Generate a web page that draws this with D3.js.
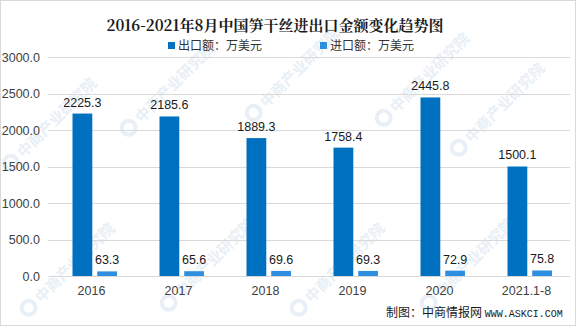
<!DOCTYPE html>
<html>
<head>
<meta charset="utf-8">
<script src="https://cdn.jsdelivr.net/npm/d3@7"></script>
<style>
  html, body { margin: 0; padding: 0; background: #fff; }
  svg { display: block; }
</style>
</head>
<body>
<svg id="chart" width="576" height="326"></svg>
<script>
// 2016-2021.1-8 bamboo-shoot import/export values (10k USD)
const categories = ["2016", "2017", "2018", "2019", "2020", "2021.1-8"];
const exportValues = [2225.3, 2185.6, 1889.3, 1758.4, 2445.8, 1500.1];
const importValues = [63.3, 65.6, 69.6, 69.3, 72.9, 75.8];
const yTicks = [0, 500, 1000, 1500, 2000, 2500, 3000];
const seriesNames = ["出口额：万美元", "进口额：万美元"];

const W = 576, H = 326;
const margin = { left: 48, right: 6, top: 57, bottom: 50 };
const colors = ["#0070C0", "#2E8FE0"];
const cjk = "'Noto Sans CJK SC', 'Noto Sans', sans-serif";

const svg = d3.select("#chart");

// light frame
svg.append("rect").attr("x", 0.5).attr("y", 0.5).attr("width", W - 1).attr("height", H - 1)
  .attr("fill", "#fff").attr("stroke", "#d9d9d9");

// faint diagonal watermarks
const wmSpots = [[22, 160], [140, 125], [265, 110], [395, 115], [470, 145], [40, 305], [180, 300], [310, 305], [440, 300]];
const wm = svg.append("g").attr("pointer-events", "none");
wmSpots.forEach(([x, y]) => {
  const g = wm.append("g").attr("transform", `translate(${x},${y}) rotate(-45)`);
  g.append("circle").attr("cx", -10).attr("cy", -6).attr("r", 7)
    .attr("fill", "none").attr("stroke", "#e8eff6").attr("stroke-width", 4);
  g.append("text").attr("x", 2).attr("y", 0)
    .attr("font-family", cjk).attr("font-size", 15).attr("font-weight", "bold")
    .attr("fill", "#e8eff6").text("中商产业研究院");
});

const x0 = d3.scaleBand().domain(categories).range([margin.left, W - margin.right]).paddingInner(0).paddingOuter(0);
const x1 = d3.scaleBand().domain([0, 1]).range([24.5, 69]).paddingInner(0.2).paddingOuter(0);
const y = d3.scaleLinear().domain([0, 3000]).range([276, 57]);

// gridlines
svg.append("g").selectAll("line").data(yTicks).join("line")
  .attr("x1", margin.left).attr("x2", W - margin.right)
  .attr("y1", d => Math.round(y(d)) + 0.5).attr("y2", d => Math.round(y(d)) + 0.5)
  .attr("stroke", "#d9d9d9").attr("stroke-width", 1);

// y axis labels
const yAxis = d3.axisLeft(y).tickValues(yTicks).tickFormat(d3.format(".1f")).tickSize(0).tickPadding(8);
const ya = svg.append("g").attr("transform", `translate(${margin.left},0)`).call(yAxis);
ya.select(".domain").remove();
ya.selectAll("text").attr("font-family", "'Liberation Sans', Arial, sans-serif").attr("font-size", 12.5).attr("fill", "#404040");

// x axis labels
const xAxis = d3.axisBottom(x0).tickSize(0).tickPadding(10);
const xa = svg.append("g").attr("transform", `translate(0,${y(0)})`).call(xAxis);
xa.select(".domain").remove();
xa.selectAll("text").attr("font-family", "'Liberation Sans', Arial, sans-serif").attr("font-size", 12.5).attr("fill", "#404040");

const series = [exportValues, importValues];
series.forEach((vals, si) => {
  const g = svg.append("g");
  g.selectAll("rect").data(vals).join("rect")
    .attr("x", (d, i) => x0(categories[i]) + x1(si))
    .attr("width", x1.bandwidth())
    .attr("y", d => y(d))
    .attr("height", d => y(0) - y(d))
    .attr("fill", colors[si]);
  g.selectAll("text").data(vals).join("text")
    .attr("x", (d, i) => x0(categories[i]) + x1(si) + x1.bandwidth() / 2)
    .attr("y", d => y(d) - 7)
    .attr("text-anchor", "middle")
    .attr("font-family", "'Liberation Sans', Arial, sans-serif")
    .attr("font-size", 12.5).attr("fill", "#1a1a1a")
    .text(d => d.toFixed(1));
});

// title
svg.append("text").attr("x", 275).attr("y", 31).attr("text-anchor", "middle")
  .attr("font-family", "'Noto Serif CJK SC', 'Noto Sans CJK SC', serif")
  .attr("font-size", 15).attr("font-weight", "bold").attr("fill", "#1a1a1a")
  .text("2016-2021年8月中国笋干丝进出口金额变化趋势图");

// legend
const legendX = [168, 320];
seriesNames.forEach((name, i) => {
  svg.append("rect").attr("x", legendX[i]).attr("y", 42).attr("width", 7).attr("height", 7).attr("fill", colors[i]);
  svg.append("text").attr("x", legendX[i] + 10).attr("y", 50)
    .attr("font-family", cjk).attr("font-size", 12).attr("fill", "#333")
    .text(name);
});

// source note
const src = svg.append("text").attr("x", 386).attr("y", 317)
  .attr("font-family", cjk).attr("font-size", 12).attr("fill", "#1a1a1a");
src.append("tspan").text("制图：中商情报网 ");
src.append("tspan").attr("font-family", "'Liberation Mono', 'DejaVu Sans Mono', monospace").attr("font-size", 10).text("WWW.ASKCI.COM");
</script>
</body>
</html>
